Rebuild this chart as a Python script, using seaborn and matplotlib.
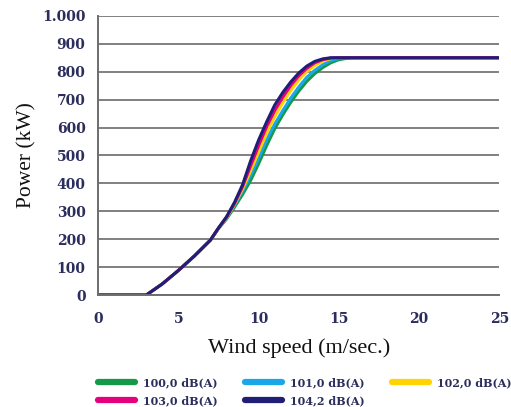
import matplotlib
matplotlib.use('Agg')
import matplotlib.pyplot as plt
import seaborn as sns
import pandas as pd

# wind speed grid (m/s)
wind = [0, 1, 2, 3, 4, 5, 6, 7, 7.5, 8, 8.5, 9, 9.5, 10, 10.5, 11, 11.5, 12,
        12.5, 13, 13.5, 14, 14.5, 15, 15.5, 16, 17, 18, 19, 20, 21, 22, 23, 24, 25]

# power (kW) per noise mode
p_100_0 = [0, 0, 0, 0, 40, 88, 140, 197, 238, 272, 315, 360, 410, 470, 535, 595, 645, 690,
           730, 765, 793, 815, 832, 843, 848, 850, 850, 850, 850, 850, 850, 850, 850, 850, 850]
p_101_0 = [0, 0, 0, 0, 40, 88, 140, 197, 239, 275, 322, 372, 428, 490, 555, 612, 660, 705,
           745, 780, 805, 825, 840, 847, 850, 850, 850, 850, 850, 850, 850, 850, 850, 850, 850]
p_102_0 = [0, 0, 0, 0, 40, 88, 140, 197, 239, 277, 325, 380, 445, 512, 580, 638, 688, 732,
           770, 800, 822, 838, 847, 850, 850, 850, 850, 850, 850, 850, 850, 850, 850, 850, 850]
p_103_0 = [0, 0, 0, 0, 40, 88, 140, 197, 240, 279, 328, 388, 462, 535, 603, 660, 708, 750,
           785, 812, 832, 843, 849, 850, 850, 850, 850, 850, 850, 850, 850, 850, 850, 850, 850]
p_104_2 = [0, 0, 0, 0, 40, 88, 140, 197, 240, 280, 332, 395, 480, 555, 620, 680, 725, 763,
           795, 820, 837, 846, 850, 850, 850, 850, 850, 850, 850, 850, 850, 850, 850, 850, 850]

labels = ['100,0 dB(A)', '101,0 dB(A)', '102,0 dB(A)', '103,0 dB(A)', '104,2 dB(A)']
colors = ['#14994a', '#1aa7ea', '#ffd400', '#e5007d', '#1f1f78']

frames = []
for lab, vals in zip(labels, [p_100_0, p_101_0, p_102_0, p_103_0, p_104_2]):
    frames.append(pd.DataFrame({'wind': wind, 'power': vals, 'mode': lab}))
df = pd.concat(frames)

sns.set_style('white')
serif = ['DejaVu Serif']
label_serif = ['Liberation Serif', 'DejaVu Serif']
tick_col = '#2b2d5c'

fig = plt.figure(figsize=(5.11, 4.07), dpi=100)
ax = fig.add_axes([0.192, 0.275, 0.785, 0.686])

sns.lineplot(data=df, x='wind', y='power', hue='mode', palette=dict(zip(labels, colors)),
             linewidth=2.2, ax=ax, legend=False)

ax.set_xlim(0, 25)
ax.set_ylim(0, 1000)
ax.set_xticks([0, 5, 10, 15, 20, 25])
ax.set_yticks(range(0, 1001, 100))
ax.set_yticklabels(['0', '100', '200', '300', '400', '500', '600', '700', '800', '900', '1.000'])
ax.yaxis.grid(True, color='#808080', linewidth=1.4)
ax.set_axisbelow(True)
for s in ['top', 'right']:
    ax.spines[s].set_visible(False)
for s in ['left', 'bottom']:
    ax.spines[s].set_color('#6e6e6e')
    ax.spines[s].set_linewidth(1.4)
ax.tick_params(axis='both', width=1.3, color='#6e6e6e', direction='out',
               labelsize=10, labelcolor=tick_col)
ax.tick_params(axis='x', length=4, pad=8)
ax.tick_params(axis='y', length=7, pad=2)
for t in ax.get_xticklabels() + ax.get_yticklabels():
    t.set_family(serif)
    t.set_fontweight('bold')

ax.set_xlabel('Wind speed (m/sec.)', family=label_serif, fontsize=16, color='#111111', labelpad=9)
ax.set_ylabel('Power (kW)', family=label_serif, fontsize=15.5, color='#111111', labelpad=4)

handles = [plt.Line2D([], [], color=c, linewidth=4.5) for c in colors]
order = [0, 3, 1, 4, 2]
fig.legend([handles[i] for i in order], [labels[i] for i in order], ncol=3,
           loc='upper left', bbox_to_anchor=(0.192, 0.073), frameon=False,
           handlelength=3.3, columnspacing=2.5, handletextpad=0.72, labelspacing=0.6,
           prop={'family': serif, 'weight': 'bold', 'size': 8}, labelcolor=tick_col,
           borderaxespad=0, borderpad=0)

fig.savefig('out.png', dpi=100)
